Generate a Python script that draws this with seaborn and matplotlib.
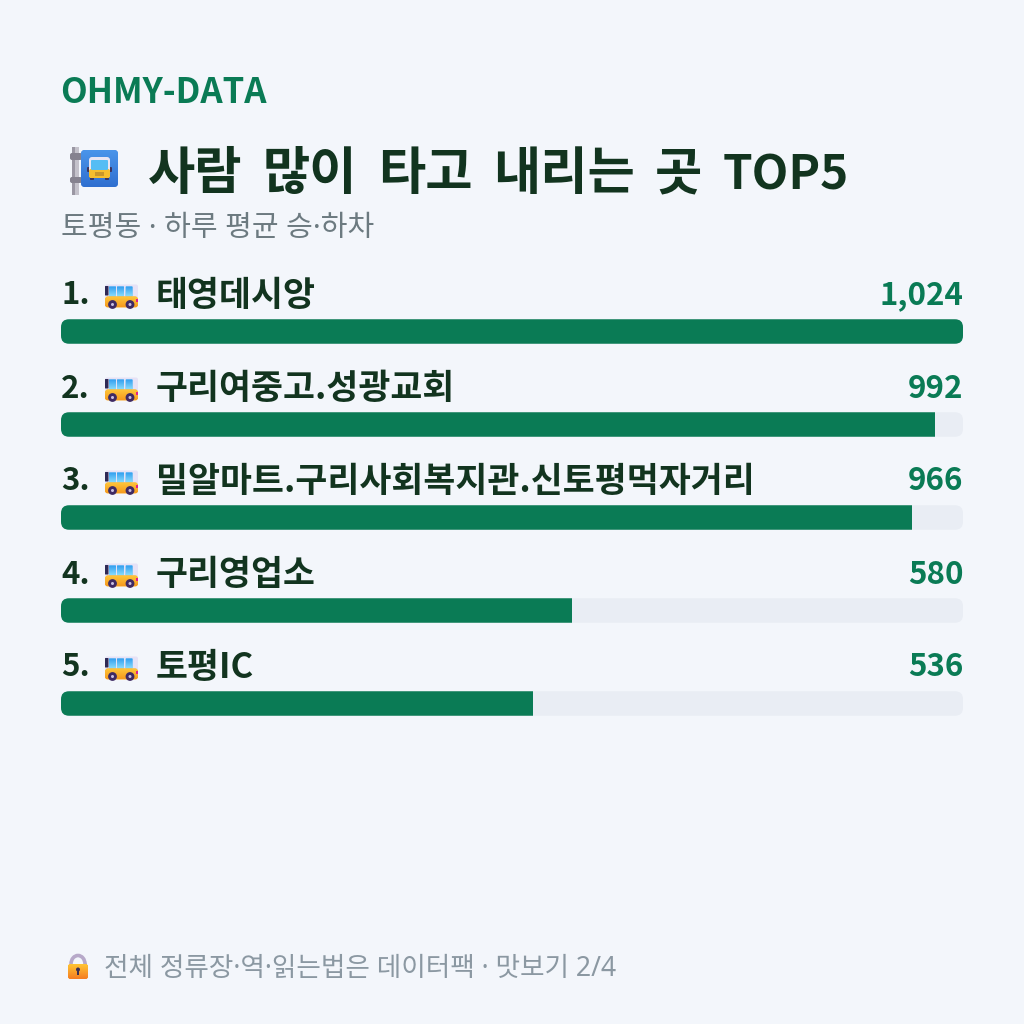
import numpy as np
import pandas as pd
import matplotlib
matplotlib.use("Agg")
import matplotlib.pyplot as plt
from matplotlib.colors import LinearSegmentedColormap
from matplotlib.patches import Circle, FancyBboxPatch, Rectangle, Arc
from matplotlib.transforms import IdentityTransform
import seaborn as sns

# Stops and their average daily boardings + alightings
stops = ["태영데시앙", "구리여중고.성광교회", "밀알마트.구리사회복지관.신토평먹자거리", "구리영업소", "토평IC"]
riders = [1024, 992, 966, 580, 536]
ranks = ["1.", "2.", "3.", "4.", "5."]

brand = "OHMY-DATA"
title = "사람 많이 타고 내리는 곳"
title_tail = "TOP5"
subtitle = "토평동 · 하루 평균 승·하차"
footer = "전체 정류장·역·읽는법은 데이터팩 · 맛보기 2/4"

BG = "#F3F6FB"
GREEN = "#0A7B55"
TRACK = "#E9EDF4"
DARK = "#12341F"
SUB = "#6C7A80"
FOOT = "#8B98A2"

sns.set_theme(style="white")
BOLD_FONT = ["Noto Sans CJK KR", "DejaVu Sans"]
REGULAR_FONT = ["Noto Sans", "Noto Sans CJK KR", "DejaVu Sans"]
plt.rcParams["font.family"] = BOLD_FONT

W = H = 1024
fig = plt.figure(figsize=(W / 100, H / 100), dpi=100, facecolor=BG)

# Bar panel: one 93 px row per stop, bars about 25 px tall
ax = fig.add_axes([61 / W, 1 - 750 / H, 902 / W, 465 / H])
df = pd.DataFrame({"stop": stops, "riders": riders, "full": [max(riders)] * len(riders)})
sns.barplot(data=df, y="stop", x="full", color=TRACK, saturation=1, width=24.5 / 93, ax=ax, linewidth=0)
n_track = len(ax.patches)
sns.barplot(data=df, y="stop", x="riders", color=GREEN, saturation=1, width=24.5 / 93, ax=ax, linewidth=0)
ax.set_xlim(0, max(riders))
ax.set_ylim(4.5, -0.5)
ax.axis("off")

# Round the ends of every track; the green fill is clipped to the same outline
fig.canvas.draw()
tracks = list(ax.patches[:n_track])
fills = list(ax.patches[n_track:])
for tr, fi in zip(tracks, fills):
    bb = tr.get_window_extent()
    outline = FancyBboxPatch((bb.x0 + 8, bb.y0 + 8), bb.width - 16, bb.height - 16,
                             boxstyle="round,pad=8,rounding_size=8",
                             transform=IdentityTransform(), facecolor=TRACK, edgecolor="none", zorder=1)
    fig.add_artist(outline)
    tr.set_visible(False)
    fi.set_clip_path(outline.get_path(), outline.get_transform())
    fi.set_zorder(5)
ax.set_zorder(2)
ax.patch.set_visible(False)

# Overlay in pixel units for text and pictograms
ov = fig.add_axes([0, 0, 1, 1], zorder=3)
ov.set_xlim(0, W)
ov.set_ylim(H, 0)
ov.axis("off")


def gradient(x0, y0, x1, y1, colors, clip, z=5):
    cmap = LinearSegmentedColormap.from_list("g", colors)
    im = ov.imshow(np.linspace(0, 1, 64)[:, None], extent=(x0, x1, y1, y0), cmap=cmap,
                   aspect="auto", zorder=z, interpolation="bilinear")
    im.set_clip_path(clip)
    ov.set_xlim(0, W)
    ov.set_ylim(H, 0)


def rrect(x0, y0, x1, y1, r, fc, z=4):
    p = FancyBboxPatch((x0 + r, y0 + r), x1 - x0 - 2 * r, y1 - y0 - 2 * r,
                       boxstyle=f"round,pad={r},rounding_size={r}", fc=fc, ec="none", zorder=z)
    ov.add_patch(p)
    return p


def bus_side(cy):
    # side-on bus, 33 px wide, sitting above the bar at row centre cy
    t = cy - 47
    rrect(105, t, 138, t + 14, 2, "#E6E2F6")
    rrect(105, t + 1.5, 108.5, t + 11, 0.5, "#2F2A55", 5)
    for x in (109, 117, 125.5):
        gradient(x, t + 2, x + 7, t + 12, ["#2E9CF0", "#86DAFB"],
                 rrect(x, t + 2, x + 7, t + 12, 0.5, "#5ABEF5", 5), z=6)
    body = rrect(105, t + 12, 138, t + 23, 3, "#F9A826", 7)
    gradient(105, t + 12, 138, t + 23, ["#FFC83A", "#F59A1F"], body, z=7)
    ov.add_patch(Rectangle((136, t + 14.5), 2, 3, fc="#E0218A", ec="none", zorder=8))
    for x in (112.5, 130):
        ov.add_patch(Circle((x, t + 20), 4.4, fc="#3E2A63", ec="none", zorder=9))
        ov.add_patch(Circle((x, t + 20), 1.5, fc="#C9BFE0", ec="none", zorder=10))


def stop_sign():
    # pole with two clamps and a blue sign carrying a front-facing bus
    ov.add_patch(Rectangle((72, 147), 7, 48, fc="#9A97A3", ec="none", zorder=4))
    ov.add_patch(Rectangle((75, 147), 4, 48, fc="#C4C2CB", ec="none", zorder=4))
    rrect(70, 153, 82, 160, 2, "#85828F")
    rrect(70, 177, 82, 183, 2, "#85828F")
    sign = rrect(81, 150, 118, 187, 4, "#3F83E0", 5)
    gradient(81, 150, 118, 187, ["#4A95EA", "#2F6FD0"], sign)
    rrect(87, 167, 90, 172, 1, "#3B3560", 6)
    rrect(109, 167, 112, 172, 1, "#3B3560", 6)
    rrect(90, 176, 94, 180, 0.8, "#3B3560", 6)
    rrect(105, 176, 109, 180, 0.8, "#3B3560", 6)
    rrect(89, 157, 110, 178, 3, "#E8E5F3", 6)
    rrect(89, 169, 110, 178, 2, "#F6BE2E", 7)
    rrect(91, 160, 108, 170, 1, "#55BDF4", 8)
    ov.add_patch(Rectangle((95, 172), 9, 3.5, fc="#C9962A", ec="none", zorder=9))


def lock():
    ov.add_patch(Arc((78, 964), 14, 17, theta1=180, theta2=360, ec="#B7A9C9", lw=2.6, zorder=4))
    ov.add_patch(Rectangle((69.5, 963), 2.4, 4, fc="#B7A9C9", ec="none", zorder=4))
    ov.add_patch(Rectangle((84.1, 963), 2.4, 4, fc="#B7A9C9", ec="none", zorder=4))
    body = rrect(68, 964, 88, 979, 2.5, "#F9A826", 5)
    gradient(68, 964, 88, 979, ["#FFC533", "#F57C22"], body)
    ov.add_patch(Circle((78, 969.5), 2, fc="#3A2F55", ec="none", zorder=6))
    ov.add_patch(Rectangle((77.2, 970), 1.6, 5, fc="#3A2F55", ec="none", zorder=6))


def spaced(x, y, text, gap, **kw):
    # draw word by word so the gap between words can be set in pixels
    rend = fig.canvas.get_renderer()
    for word in text.split(" "):
        t = ov.text(x, y, word, va="baseline", ha="left", **kw)
        x += t.get_window_extent(rend).width + gap
    return x


# Header
ov.text(60.5, 103, brand, fontsize=25, fontweight="bold", color=GREEN, va="baseline", ha="left")
end = spaced(148, 189, title, 20.5, fontsize=37, fontweight="bold", color=DARK)
ov.text(end, 189, title_tail, fontsize=34.3, fontweight="bold", color=DARK, va="baseline", ha="left")
ov.text(61, 236.5, subtitle, fontsize=20.9, family=REGULAR_FONT, color=SUB, va="baseline", ha="left")
stop_sign()

# Row labels
row_centres = [ax.transData.transform((0, i))[1] for i in range(len(stops))]
for rank, name, val, yc in zip(ranks, stops, riders, row_centres):
    cy = H - yc
    ov.text(61, cy - 27, rank, fontsize=22.5, fontweight="bold", color=DARK, va="baseline", ha="left")
    bus_side(cy)
    ov.text(156, cy - 25.5, name, fontsize=25, fontweight="bold", color=DARK, va="baseline", ha="left")
    ov.text(963.5, cy - 27, f"{val:,}", fontsize=22.5, fontweight="bold", color=GREEN, va="baseline", ha="right")

# Footer
lock()
ov.text(104, 976.5, footer, fontsize=19.2, family=REGULAR_FONT, color=FOOT, va="baseline", ha="left")

fig.savefig("out.png", dpi=100, facecolor=BG)
